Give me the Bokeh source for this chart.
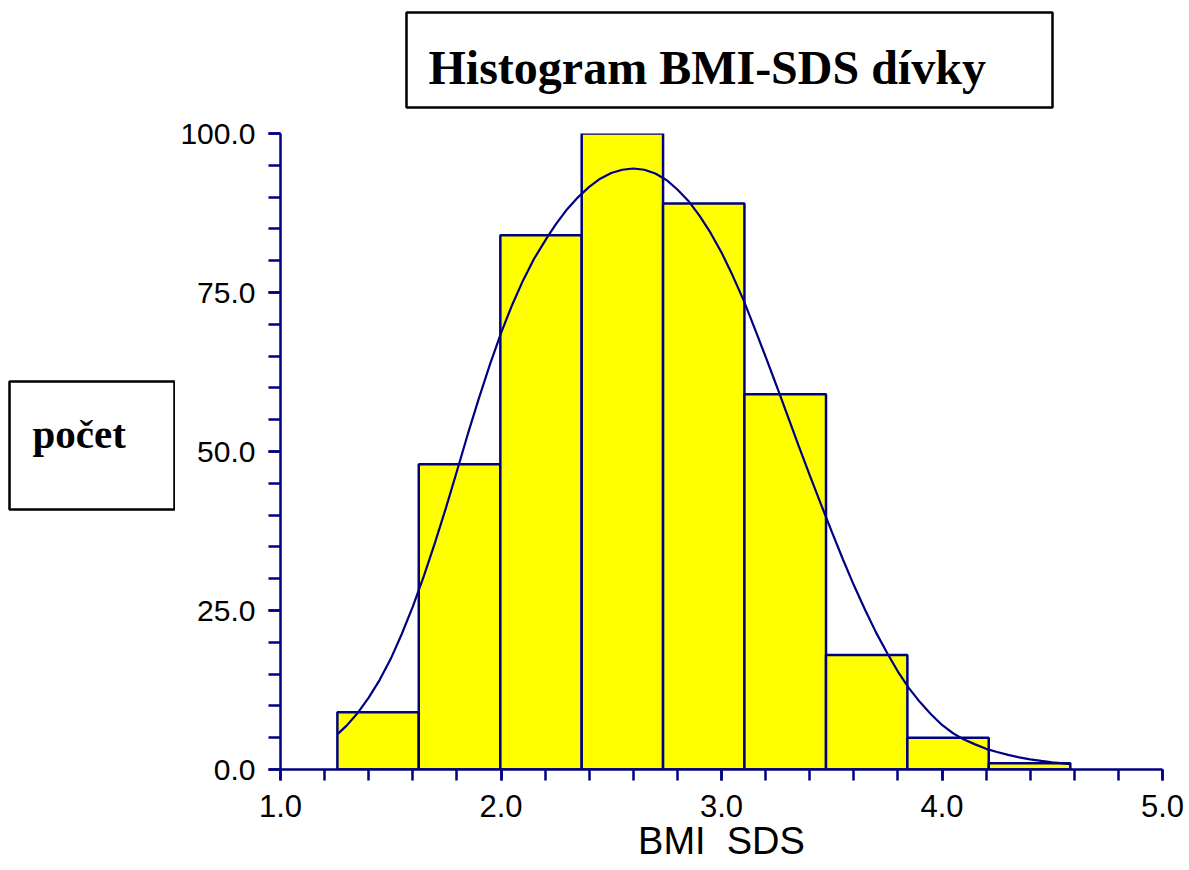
from bokeh.plotting import figure
from bokeh.layouts import column, row
from bokeh.models import (Range1d, SingleIntervalTicker, PrintfTickFormatter,
                          Label, Spacer)
from bokeh.embed import file_html
from bokeh.resources import INLINE

# Histogram of BMI SDS (girls): bin edges and counts
bin_left = [1.258, 1.627, 1.997, 2.366, 2.735, 3.104, 3.474, 3.843, 4.212]
bin_right = [1.627, 1.997, 2.366, 2.735, 3.104, 3.474, 3.843, 4.212, 4.582]
counts = [9, 48, 84, 100, 89, 59, 18, 5, 1]

# Fitted normal curve, sampled points
curve_x = [1.26, 1.30, 1.348, 1.40, 1.45, 1.50, 1.55, 1.60, 1.65, 1.70,
           1.75, 1.80, 1.85, 1.90, 1.95, 2.00, 2.05, 2.10, 2.15, 2.21,
           2.25, 2.30, 2.35, 2.40, 2.45, 2.50, 2.55, 2.60, 2.65, 2.70,
           2.75, 2.80, 2.85, 2.90, 2.95, 3.00, 3.05, 3.10, 3.15, 3.20,
           3.25, 3.30, 3.35, 3.40, 3.45, 3.50, 3.55, 3.60, 3.65, 3.70,
           3.75, 3.80, 3.85, 3.90, 3.95, 4.00, 4.05, 4.10, 4.15, 4.20,
           4.25, 4.30, 4.35, 4.40, 4.45, 4.50, 4.55, 4.583]
curve_y = [5.6, 6.9, 8.8, 11.3, 14.1, 17.4, 21.3, 25.6, 30.4, 35.6,
           41.1, 46.9, 52.8, 58.4, 63.7, 68.6, 73.0, 76.9, 80.3, 83.7,
           85.8, 88.1, 90.0, 91.6, 92.9, 93.8, 94.3, 94.5, 94.3, 93.7,
           92.7, 91.2, 89.4, 87.1, 84.4, 81.3, 77.7, 73.8, 69.4, 64.9,
           60.3, 55.6, 50.9, 46.3, 41.8, 37.4, 33.1, 29.0, 25.2, 21.6,
           18.4, 15.4, 12.8, 10.6, 8.7, 7.0, 5.7, 4.7, 3.95, 3.25,
           2.75, 2.3, 1.9, 1.6, 1.35, 1.13, 0.95, 0.85]

x_start, x_end = 1.0, 5.0
y_start, y_end = 0.0, 100.0

title_text = "Histogram BMI-SDS dívky"
y_caption = "počet"
x_caption = "BMI\u00a0 SDS"

NAVY = "#000080"
YELLOW = "#FFFF00"
PAGE_W, PAGE_H = 1189, 870
TOP_ROW_H = 110
LEFT_COL_W = 175


def framed_caption(width, height, borders, text, text_pos, size):
    """A small figure whose frame outline is the box around a caption."""
    left, right, top, bottom = borders
    fw, fh = width - left - right, height - top - bottom
    f = figure(width=width, height=height,
               x_range=Range1d(0, fw), y_range=Range1d(0, fh),
               x_axis_type=None, y_axis_type=None,
               output_backend="svg", toolbar_location=None,
               min_border_left=left, min_border_right=right,
               min_border_top=top, min_border_bottom=bottom,
               frame_align=False)
    f.xgrid.grid_line_color = None
    f.ygrid.grid_line_color = None
    f.outline_line_color = "black"
    f.outline_line_width = 2.5
    f.border_fill_color = "white"
    f.background_fill_color = "white"
    f.add_layout(Label(x=text_pos[0], y=text_pos[1], text=text,
                       text_font="Liberation Serif", text_font_style="bold",
                       text_font_size=size, text_color="black",
                       text_baseline="alphabetic"))
    return f


# Title box
title_fig = framed_caption(650, TOP_ROW_H, (2, 2, 12, 3), title_text,
                           (22, 40), "48px")
top_row = row(Spacer(width=404, height=TOP_ROW_H), title_fig,
              Spacer(width=PAGE_W - 404 - 650, height=TOP_ROW_H))

# y-axis caption box
lower_h = PAGE_H - TOP_ROW_H
ycap_fig = framed_caption(LEFT_COL_W, lower_h, (9, 1, 271, lower_h - 271 - 128),
                          y_caption, (23, 76), "41px")

# Main histogram
p = figure(width=PAGE_W - LEFT_COL_W, height=lower_h,
           x_range=Range1d(x_start, x_end), y_range=Range1d(y_start, y_end),
           output_backend="svg", toolbar_location=None,
           min_border_left=280 - LEFT_COL_W, min_border_right=27,
           min_border_top=133 - TOP_ROW_H, min_border_bottom=101,
           frame_align=False)
p.outline_line_color = None
p.xgrid.grid_line_color = None
p.ygrid.grid_line_color = None
p.background_fill_color = "white"
p.border_fill_color = "white"

p.xaxis.ticker = SingleIntervalTicker(interval=1.0, num_minor_ticks=5)
p.yaxis.ticker = SingleIntervalTicker(interval=25, num_minor_ticks=5)

for ax in (p.xaxis[0], p.yaxis[0]):
    ax.formatter = PrintfTickFormatter(format="%.1f")
    ax.axis_line_color = NAVY
    ax.axis_line_width = 2.5
    ax.major_tick_line_color = NAVY
    ax.major_tick_line_width = 2.5
    ax.minor_tick_line_color = NAVY
    ax.minor_tick_line_width = 2.5
    ax.major_tick_in = 0
    ax.minor_tick_in = 0
    ax.major_label_text_font = "Liberation Sans"
    ax.major_label_text_color = "black"

p.xaxis.major_label_text_font_size = "31px"
p.yaxis.major_label_text_font_size = "30px"
p.xaxis.major_tick_out = 11
p.xaxis.minor_tick_out = 11
p.yaxis.major_tick_out = 12
p.yaxis.minor_tick_out = 12
p.xaxis.major_label_standoff = 14
p.yaxis.major_label_standoff = 13

p.xaxis.axis_label = x_caption
p.xaxis.axis_label_text_font = "Liberation Sans"
p.xaxis.axis_label_text_font_size = "38px"
p.xaxis.axis_label_text_font_style = "normal"
p.xaxis.axis_label_text_color = "black"
p.xaxis.axis_label_standoff = 0

# Histogram bars
p.quad(left=bin_left, right=bin_right, top=counts, bottom=0,
       fill_color=YELLOW, line_color=NAVY, line_width=2.5)

# Normal curve
p.line(curve_x, curve_y, line_color=NAVY, line_width=2.2)

layout = column(top_row, row(ycap_fig, p))

open("out.html", "w").write(file_html(layout, INLINE))
